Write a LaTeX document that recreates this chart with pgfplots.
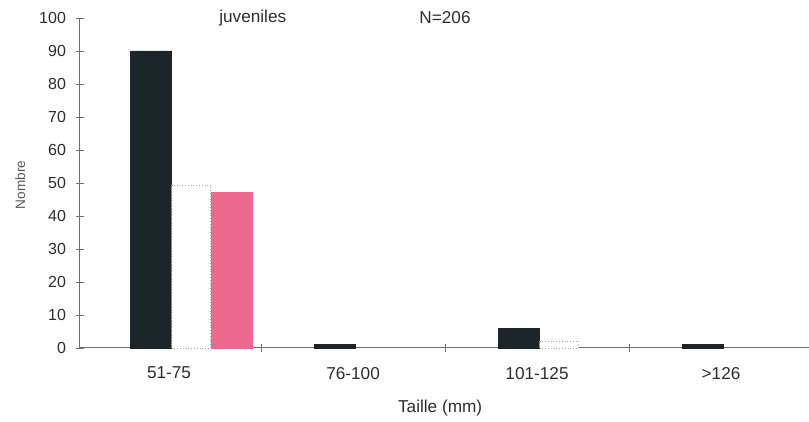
\documentclass[border=0pt]{standalone}
\usepackage{fontspec}
\setmainfont{Liberation Sans}
\usepackage{pgfplots}
\pgfplotsset{compat=1.18}
\definecolor{barblack}{RGB}{28,38,42}
\definecolor{barpink}{RGB}{236,104,142}
\definecolor{axisgray}{RGB}{110,110,110}
\definecolor{txt}{RGB}{45,45,45}
\begin{document}
\begin{tikzpicture}
\useasboundingbox (-40pt,-37pt) rectangle (364.5pt,174pt);
\begin{axis}[
  at={(0,0)}, anchor=south west,
  scale only axis, width=364.5pt, height=165pt,
  xmin=-0.484, xmax=3.478, ymin=0, ymax=100,
  axis x line*=bottom, axis y line*=left,
  axis line style={axisgray, line width=0.5pt},
  ytick={0,10,...,100},
  xtick={0,1,2,3},
  xticklabels={51-75,76-100,101-125,>126},
  extra x ticks={0.5,1.5,2.5},
  extra x tick labels={},
  major tick length=4pt, tick align=center,
  xtick style={draw=none},
  extra x tick style={xtick style={draw=axisgray}},
  ytick style={axisgray},
  tick label style={font=\fontsize{8}{9}\selectfont, text=txt},
  xticklabel style={font=\fontsize{8.6}{10}\selectfont, yshift=-4pt},
  yticklabel style={xshift=-1.5pt},
  /pgf/number format/assume math mode=true,
  ylabel={Nombre},
  every axis y label/.style={at={(axis description cs:-0.082,0.494)}, rotate=90, anchor=center, text=txt!80, font=\fontsize{6.8}{8}\selectfont},
  xlabel={Taille (mm)},
  every axis x label/.style={at={(axis description cs:0.494,-0.182)}, anchor=center, text=txt, font=\fontsize{8.6}{10}\selectfont},
  clip=false,
]
\addplot[ybar, bar width=20.5pt, bar shift=-9pt, fill=barblack, draw=barblack]
  coordinates {(0,90) (1,1) (2,6) (3,1)};
\addplot[ybar, bar width=19.5pt, bar shift=11pt, fill=white, draw=axisgray!60, densely dotted, line width=0.4pt]
  coordinates {(0,49.4) (2,2)};
\addplot[ybar, bar width=20.5pt, bar shift=31.5pt, fill=barpink, draw=barpink]
  coordinates {(0,47)};
\node[font=\fontsize{8.6}{10}\selectfont, text=txt] at (rel axis cs:0.237,1.0) {juveniles};
\node[font=\fontsize{8.6}{10}\selectfont, text=txt] at (rel axis cs:0.5007,1.0) {N=206};
\end{axis}
\end{tikzpicture}
\end{document}
